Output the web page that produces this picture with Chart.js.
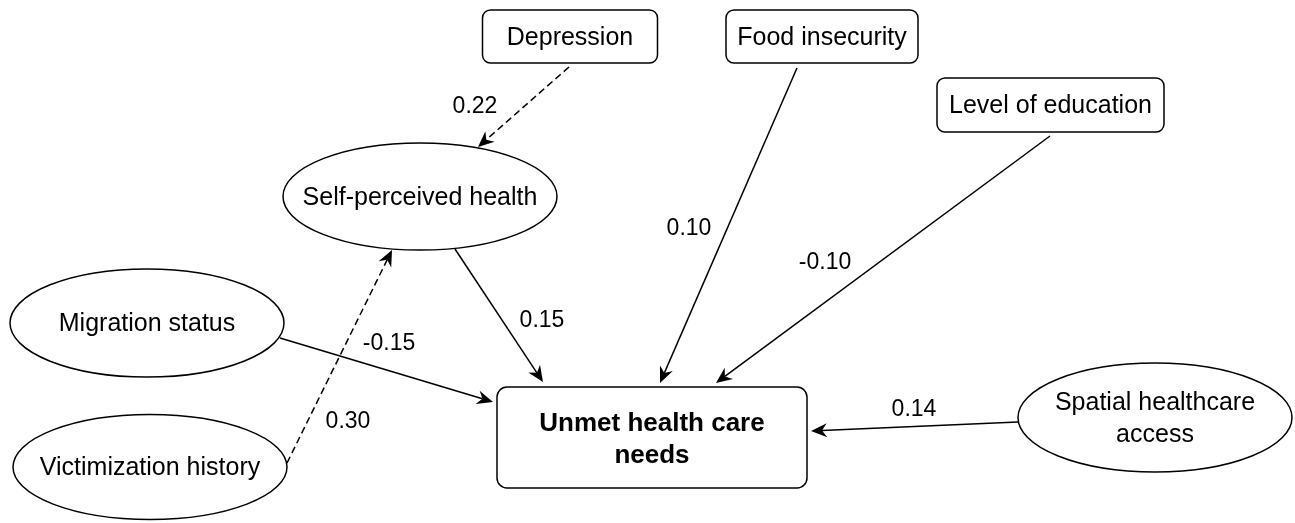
<!DOCTYPE html>
<html>
<head>
<meta charset="utf-8">
<script src="https://cdn.jsdelivr.net/npm/chart.js@4.4.1/dist/chart.umd.min.js"></script>
<style>
  html, body { margin: 0; padding: 0; background: #fff; }
  #wrap { width: 1295px; height: 523px; }
</style>
</head>
<body>
<div id="wrap"><canvas id="pathChart"></canvas></div>
<script>
// Nodes of the path model (centres in diagram units, y grows downward)
const nodeNames = ['Depression', 'Food insecurity', 'Level of education', 'Self-perceived health',
                   'Migration status', 'Victimization history', 'Unmet health care\nneeds', 'Spatial healthcare\naccess'];
const nodeX = [570, 822, 1050.5, 420, 147, 150, 652, 1155];
const nodeY = [36.5, 36.5, 105, 196.5, 323, 467, 437.5, 417.5];
const nodeKind = ['box', 'box', 'box', 'ellipse', 'ellipse', 'ellipse', 'outcome', 'ellipse'];

// Paths: start point, arrow tip, coefficient, dashed or not
const pathStartX = [569, 287, 455, 280, 797, 1050, 1018];
const pathStartY = [67, 463, 249, 338, 68, 136, 422];
const pathEndX = [478, 392, 543, 493, 660, 716, 811];
const pathEndY = [147, 250, 382, 402, 383, 383, 431];
const pathCoef = ['0.22', '0.30', '0.15', '-0.15', '0.10', '-0.10', '0.14'];
const pathDashed = [true, true, false, false, false, false, false];

// where each coefficient sits
const coefX = [475, 348, 542, 389, 689, 825, 914];
const coefY = [105, 420, 319, 342, 227, 261, 408];

// sizes of the node shapes (width, height)
const nodeSize = [[175, 53], [192, 53], [227, 54], [274, 107], [274, 108], [274, 105], [310, 101], [274, 109]];

const FONT = "'Liberation Sans', Arial, Helvetica, sans-serif";
const HEAD_LEN = 16, HEAD_HALF = 7, HEAD_NOTCH = 11;

// line datasets (stop at the arrow notch so the tip stays sharp)
const pathDatasets = pathStartX.map((x1, i) => {
    const dx = pathEndX[i] - x1, dy = pathEndY[i] - pathStartY[i];
    const len = Math.hypot(dx, dy);
    const k = (len - HEAD_NOTCH) / len;
    return {
        data: [{ x: x1, y: pathStartY[i] }, { x: x1 + dx * k, y: pathStartY[i] + dy * k }],
        showLine: true,
        borderColor: '#000',
        borderWidth: 1.5,
        borderDash: pathDashed[i] ? [7, 4] : [],
        pointRadius: 0,
        fill: false
    };
});

const roundRect = (ctx, x, y, w, h, r) => {
    ctx.beginPath();
    ctx.moveTo(x + r, y);
    ctx.lineTo(x + w - r, y);
    ctx.arcTo(x + w, y, x + w, y + r, r);
    ctx.lineTo(x + w, y + h - r);
    ctx.arcTo(x + w, y + h, x + w - r, y + h, r);
    ctx.lineTo(x + r, y + h);
    ctx.arcTo(x, y + h, x, y + h - r, r);
    ctx.lineTo(x, y + r);
    ctx.arcTo(x, y, x + r, y, r);
    ctx.closePath();
};

const diagramPlugin = {
    id: 'diagram',
    afterDatasetsDraw(chart) {
        const ctx = chart.ctx;
        const xs = chart.scales.x, ys = chart.scales.y;
        const px = v => xs.getPixelForValue(v);
        const py = v => ys.getPixelForValue(v);
        const sx = Math.abs(px(1) - px(0)), sy = Math.abs(py(1) - py(0));
        ctx.save();

        // arrow heads
        ctx.fillStyle = '#000';
        pathEndX.forEach((ex, i) => {
            const tx = px(ex), ty = py(pathEndY[i]);
            const ang = Math.atan2(ty - py(pathStartY[i]), tx - px(pathStartX[i]));
            ctx.save();
            ctx.translate(tx, ty);
            ctx.rotate(ang);
            ctx.beginPath();
            ctx.moveTo(0, 0);
            ctx.lineTo(-HEAD_LEN, -HEAD_HALF);
            ctx.lineTo(-HEAD_NOTCH, 0);
            ctx.lineTo(-HEAD_LEN, HEAD_HALF);
            ctx.closePath();
            ctx.fill();
            ctx.restore();
        });

        // nodes
        ctx.lineWidth = 1.5;
        ctx.strokeStyle = '#000';
        nodeNames.forEach((name, i) => {
            const cx = px(nodeX[i]), cy = py(nodeY[i]);
            const w = nodeSize[i][0] * sx, h = nodeSize[i][1] * sy;
            ctx.fillStyle = '#fff';
            if (nodeKind[i] === 'ellipse') {
                ctx.beginPath();
                ctx.ellipse(cx, cy, w / 2, h / 2, 0, 0, Math.PI * 2);
            } else {
                roundRect(ctx, cx - w / 2, cy - h / 2, w, h, nodeKind[i] === 'outcome' ? 10 : 8);
            }
            ctx.fill();
            ctx.stroke();

            const bold = nodeKind[i] === 'outcome';
            const fs = bold ? 26 : 25;
            ctx.font = (bold ? 'bold ' : '') + fs + 'px ' + FONT;
            ctx.fillStyle = '#000';
            ctx.textAlign = 'center';
            ctx.textBaseline = 'alphabetic';
            const lines = name.split('\n');
            const gap = 32;
            lines.forEach((ln, j) => {
                const off = (j - (lines.length - 1) / 2) * gap;
                ctx.fillText(ln, cx, cy + off + fs * 0.358 - (bold ? 0 : 0.5));
            });
        });

        // coefficients
        ctx.font = '23px ' + FONT;
        ctx.fillStyle = '#000';
        ctx.textAlign = 'center';
        ctx.textBaseline = 'alphabetic';
        pathCoef.forEach((c, i) => {
            ctx.fillText(c, px(coefX[i]), py(coefY[i]) + 23 * 0.358);
        });
        ctx.restore();
    }
};

new Chart(document.getElementById('pathChart').getContext('2d'), {
    type: 'scatter',
    data: { datasets: pathDatasets },
    options: {
        responsive: true,
        maintainAspectRatio: false,
        animation: false,
        layout: { padding: 0 },
        plugins: { legend: { display: false }, tooltip: { enabled: false } },
        scales: {
            x: { type: 'linear', min: 0, max: 1295, display: false },
            y: { type: 'linear', min: 0, max: 523, reverse: true, display: false }
        }
    },
    plugins: [diagramPlugin]
});
</script>
</body>
</html>
